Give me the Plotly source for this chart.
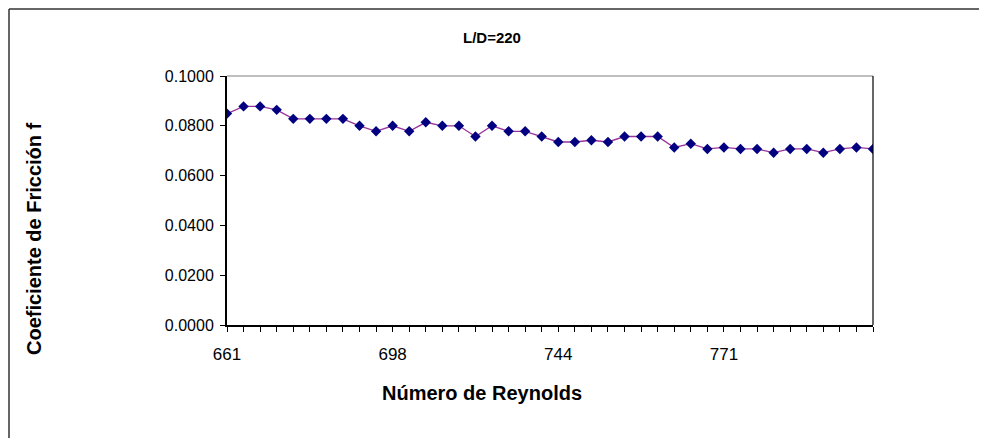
import plotly.graph_objects as go

# Reynolds number categories (only every 10th is labelled on the axis)
reynolds = [661, 665, 668, 672, 676, 679, 683, 687, 691, 694,
            698, 703, 707, 712, 716, 721, 726, 730, 735, 739,
            744, 747, 749, 752, 755, 758, 760, 763, 766, 768,
            771, 774, 777, 780, 783, 786, 789, 792, 795, 798]
friction_f = [0.0849, 0.0878, 0.0878, 0.0864, 0.0828, 0.0828, 0.0828, 0.0828, 0.0800, 0.0778,
              0.0800, 0.0778, 0.0814, 0.0800, 0.0800, 0.0757, 0.0800, 0.0778, 0.0778, 0.0757,
              0.0735, 0.0735, 0.0742, 0.0735, 0.0757, 0.0757, 0.0757, 0.0713, 0.0728, 0.0707,
              0.0713, 0.0707, 0.0707, 0.0692, 0.0707, 0.0707, 0.0692, 0.0707, 0.0713, 0.0707]
y_ticks = [0.0, 0.02, 0.04, 0.06, 0.08, 0.10]

FONT = "Liberation Sans, Arial, sans-serif"

categories = [str(r) for r in reynolds]
tick_text = [c if i % 10 == 0 else "" for i, c in enumerate(categories)]

# the page body adds an 8px offset, so the figure is a bit smaller than the window
W, H = 979, 430
L, R, T, B = 219, 114, 68, 113
PW, PH = W - L - R, H - T - B


def px(x):
    return (x - L) / PW


def py(y):
    return (H - B - y) / PH


fig = go.Figure()
fig.add_trace(
    go.Scatter(
        x=categories,
        y=friction_f,
        mode="lines+markers",
        line=dict(color="#993399", width=1.3),
        marker=dict(symbol="diamond", size=8, color="#000080"),
        showlegend=False,
    )
)

fig.update_layout(
    width=W,
    height=H,
    margin=dict(l=L, r=R, t=T, b=B),
    paper_bgcolor="#ffffff",
    plot_bgcolor="#ffffff",
    font=dict(family=FONT, color="#000000", size=17),
    shapes=[
        # outer chart frame: only the top and left edges are in view
        dict(type="line", xref="paper", yref="paper",
             x0=px(1), x1=px(W), y0=py(1), y1=py(1),
             line=dict(color="#333333", width=1.5), layer="below"),
        dict(type="line", xref="paper", yref="paper",
             x0=px(1), x1=px(1), y0=py(1), y1=py(H),
             line=dict(color="#333333", width=1.5), layer="below"),
        # plot area border
        dict(type="line", xref="paper", yref="paper", x0=0, x1=1, y0=1, y1=1,
             line=dict(color="#808080", width=1.2)),
        dict(type="line", xref="paper", yref="paper", x0=1, x1=1, y0=0, y1=1,
             line=dict(color="#000000", width=1.2)),
    ],
    annotations=[
        dict(text="<b>L/D=220</b>", xref="paper", yref="paper",
             x=px(484), y=py(29), xanchor="center", yanchor="middle",
             showarrow=False, font=dict(size=15, family=FONT, color="#000000")),
        dict(text="<b>Número de Reynolds</b>", xref="paper", yref="paper",
             x=px(474), y=py(385), xanchor="center", yanchor="middle",
             showarrow=False, font=dict(size=20, family=FONT, color="#000000")),
        dict(text="<b>Coeficiente de Fricción f</b>", xref="paper", yref="paper",
             x=px(26), y=py(231), xanchor="center", yanchor="middle", textangle=-90,
             showarrow=False, font=dict(size=20, family=FONT, color="#000000")),
    ],
)

fig.update_xaxes(
    type="category",
    range=[0, len(categories) - 1],
    tickmode="array",
    tickvals=categories,
    ticktext=tick_text,
    ticks="outside",
    ticklen=5,
    tickcolor="#000000",
    ticklabelstandoff=8,
    showgrid=False,
    showline=True,
    linecolor="#000000",
    linewidth=2,
    tickfont=dict(size=17, family=FONT, color="#000000"),
)
fig.update_yaxes(
    range=[0, 0.1],
    tickmode="array",
    tickvals=y_ticks,
    ticktext=[f"{v:.4f}" for v in y_ticks],
    ticks="outside",
    ticklen=5,
    tickcolor="#000000",
    ticklabelstandoff=3,
    showgrid=False,
    zeroline=False,
    showline=True,
    linecolor="#000000",
    linewidth=2,
    tickfont=dict(size=16, family=FONT, color="#000000"),
)

fig.write_html("out.html")
